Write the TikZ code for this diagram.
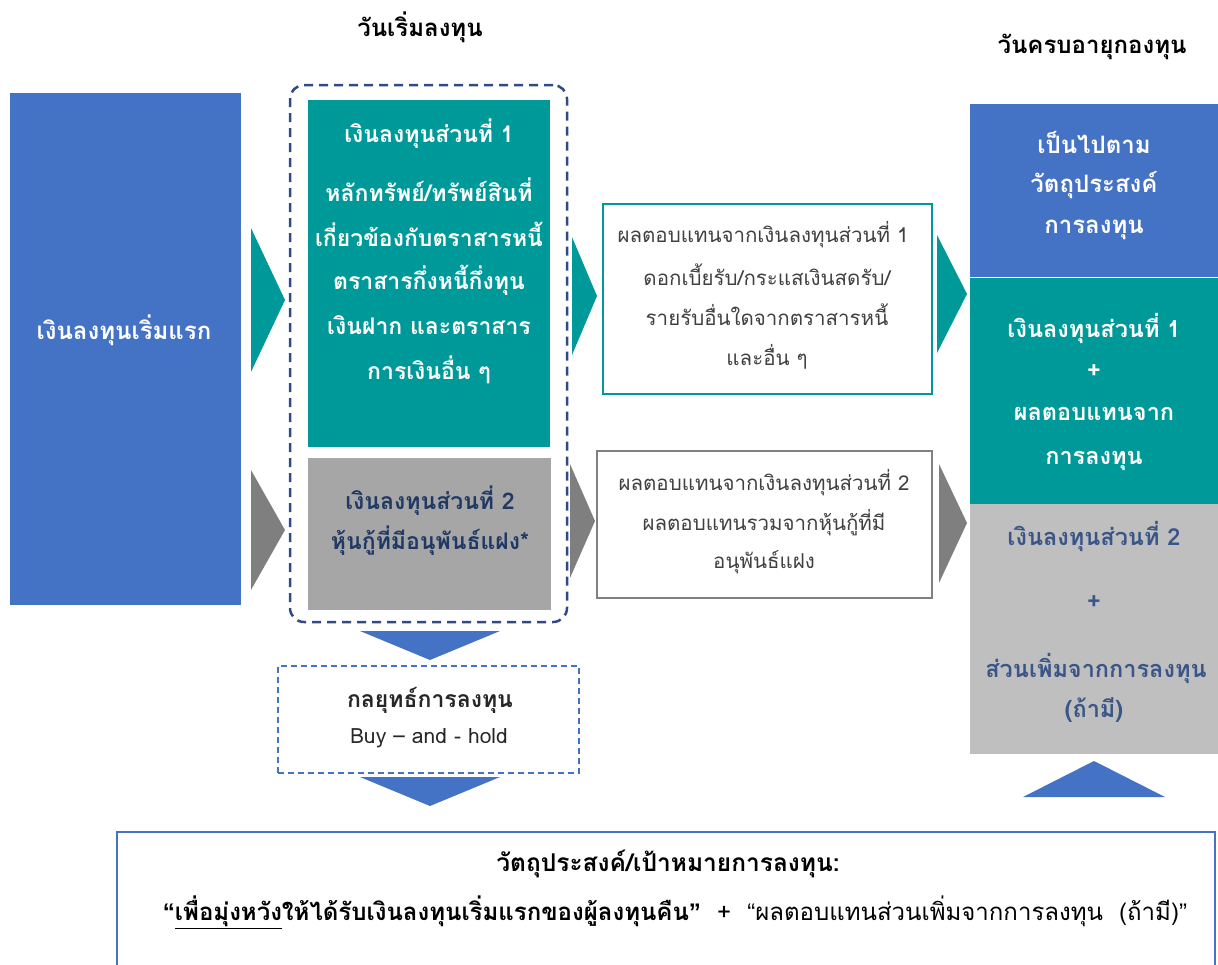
\documentclass[tikz,border=0pt]{standalone}
\usepackage{fontspec}
\setmainfont[Script=Thai]{Loma}
\newfontfamily\qfont{Liberation Sans}
\definecolor{cblue}{HTML}{4472C4}
\definecolor{cteal}{HTML}{009999}
\definecolor{cgrayd}{HTML}{7F7F7F}
\definecolor{cgraym}{HTML}{A6A6A6}
\definecolor{cgrayl}{HTML}{BFBFBF}
\definecolor{cnavy}{HTML}{203864}
\definecolor{cdash}{HTML}{2F4A85}
\definecolor{cslate}{HTML}{3A5688}
\definecolor{ctext}{HTML}{404040}
\definecolor{cbox}{HTML}{808080}
\newcommand\myB[1]{\fontsize{#1}{#1}\selectfont\bfseries}
\newcommand\myR[1]{\fontsize{#1}{#1}\selectfont}
\newcommand\myLQ{{\qfont “}}
\newcommand\myRQ{{\qfont ”}}
\begin{document}
\begin{tikzpicture}[x=1pt,y=-1pt,
  rect/.style={inner sep=0pt, outer sep=0pt, anchor=north west},
  lbl/.style={inner sep=0pt, align=center, anchor=center},
  wb/.style={lbl, font=\myB{23}, text=white},
  nb/.style={lbl, font=\myB{23}, text=cnavy},
  sb/.style={lbl, font=\myB{23.5}, text=cslate},
  rt/.style={lbl, font=\myR{20.5}, text=ctext}]
\clip (0,0) rectangle (1218,964);
% headers
\node[lbl, font=\myB{24}] (h1) at (420,27) {วันเริ่มลงทุน};
\node[lbl, font=\myB{24}] (h2) at (1092,47) {วันครบอายุกองทุน};
% left block
\node[rect, fill=cblue, minimum width=231pt, minimum height=512pt] (init) at (10,93) {};
\node[wb, font=\myB{24}] (initT) at (124,330) {เงินลงทุนเริ่มแรก};
\fill[cteal] (251,228) -- (285,300) -- (251,372) -- cycle;
\fill[cgrayd] (251,470) -- (285,530) -- (251,590) -- cycle;
% dashed group
\node[rect, draw=cdash, line width=2.5pt, dash pattern=on 9pt off 6pt, rounded corners=14pt, minimum width=277pt, minimum height=537pt] (grp) at (290,85) {};
\node[rect, fill=cteal, minimum width=242pt, minimum height=347pt] (p1) at (308,100) {};
\node[rect, fill=cgraym, minimum width=243pt, minimum height=152pt] (p2) at (308,458) {};
\node[wb] (p1a) at (429,134) {เงินลงทุนส่วนที่ 1};
\node[wb] (p1b) at (429,190) {หลักทรัพย์/ทรัพย์สินที่};
\node[wb] (p1c) at (429,234) {เกี่ยวข้องกับตราสารหนี้};
\node[wb] (p1d) at (429,280) {ตราสารกึ่งหนี้กึ่งทุน};
\node[wb] (p1e) at (429,325) {เงินฝาก และตราสาร};
\node[wb] (p1f) at (429,370) {การเงินอื่น ๆ};
\node[nb] (p2a) at (430,501) {เงินลงทุนส่วนที่ 2};
\node[nb] (p2b) at (430,541) {หุ้นกู้ที่มีอนุพันธ์แฝง*};
% down arrows and strategy
\fill[cblue] (360,631) -- (500,631) -- (430,660) -- cycle;
\node[rect, draw=cblue, line width=1.4pt, dash pattern=on 6pt off 4pt, minimum width=301pt, minimum height=107pt] (strat) at (278,666) {};
\node[lbl, font=\myB{23}, text=black!85] (stratT) at (430,700) {กลยุทธ์การลงทุน};
\node[lbl, font=\myR{21}, text=black!85] (stratS) at (429,738) {Buy – and - hold};
\fill[cblue] (360,777) -- (500,777) -- (430,806) -- cycle;
% middle
\fill[cteal] (572,237) -- (597,296) -- (572,355) -- cycle;
\fill[cgrayd] (570,464) -- (595,521) -- (570,578) -- cycle;
\node[rect, draw=cteal, line width=1.5pt, minimum width=329pt, minimum height=190pt] (r1) at (603,204) {};
\node[rt] (r1a) at (763,235) {ผลตอบแทนจากเงินลงทุนส่วนที่ 1};
\node[rt] (r1b) at (767,275) {ดอกเบี้ยรับ/กระแสเงินสดรับ/};
\node[rt] (r1c) at (767,315) {รายรับอื่นใดจากตราสารหนี้};
\node[rt] (r1d) at (767,357) {และอื่น ๆ};
\node[rect, draw=cbox, line width=1.5pt, minimum width=335pt, minimum height=147pt] (r2) at (597,451) {};
\node[rt] (r2a) at (764,483) {ผลตอบแทนจากเงินลงทุนส่วนที่ 2};
\node[rt] (r2b) at (764,523) {ผลตอบแทนรวมจากหุ้นกู้ที่มี};
\node[rt] (r2c) at (764,562) {อนุพันธ์แฝง};
% right arrows
\fill[cteal] (937,235) -- (967,294) -- (937,353) -- cycle;
\fill[cgrayd] (939,464) -- (967,523) -- (939,583) -- cycle;
% right column
\node[rect, fill=cblue, minimum width=248pt, minimum height=173pt] (q0) at (970,104) {};
\node[rect, fill=cteal, minimum width=248pt, minimum height=226pt] (q1) at (970,278) {};
\node[rect, fill=cgrayl, minimum width=248pt, minimum height=250pt] (q2) at (970,504) {};
\node[wb, font=\myB{24}] (q0a) at (1094,142) {เป็นไปตาม};
\node[wb, font=\myB{24}] (q0b) at (1094,185) {วัตถุประสงค์};
\node[wb, font=\myB{24}] (q0c) at (1094,230) {การลงทุน};
\node[wb, font=\myB{23.5}] (q1a) at (1094,328) {เงินลงทุนส่วนที่ 1};
\node[wb, font=\myB{23.5}] (q1b) at (1094,372) {+};
\node[wb, font=\myB{23.5}] (q1c) at (1094,414) {ผลตอบแทนจาก};
\node[wb, font=\myB{23.5}] (q1d) at (1094,461) {การลงทุน};
\node[sb] (q2a) at (1094,536) {เงินลงทุนส่วนที่ 2};
\node[sb] (q2b) at (1094,603) {+};
\node[sb] (q2c) at (1096,668) {ส่วนเพิ่มจากการลงทุน};
\node[sb] (q2d) at (1094,710) {(ถ้ามี)};
\fill[cblue] (1023,797) -- (1165,797) -- (1094,761) -- cycle;
% bottom box
\node[rect, draw=cblue, line width=1.5pt, minimum width=1098pt, minimum height=160pt] (goal) at (117,832) {};
\node[lbl, font=\myB{24.5}, text=black] (goalA) at (668,864) {วัตถุประสงค์/เป้าหมายการลงทุน:};
\node[lbl, font=\myR{24}, text=black] (goalB) at (675,912) {{\bfseries \myLQ\underline{เพื่อมุ่งหวัง}ให้ได้รับเงินลงทุนเริ่มแรกของผู้ลงทุนคืน\myRQ}\ \ +\ \ \myLQ ผลตอบแทนส่วนเพิ่มจากการลงทุน\ \ (ถ้ามี)\myRQ};
\end{tikzpicture}
\end{document}
